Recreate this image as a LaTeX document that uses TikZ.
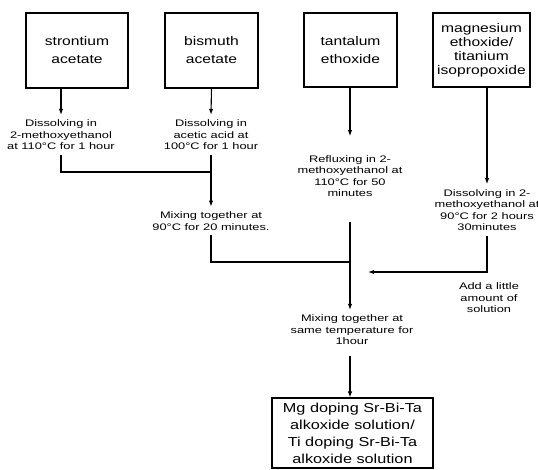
\documentclass[tikz,border=0pt]{standalone}
\usepackage{fontspec}
\setmainfont{Liberation Sans}
\newfontfamily\boxfont{Liberation Sans}[FakeStretch=1.25]
\newfontfamily\stepfont{Liberation Sans}[FakeStretch=1.35]
\usetikzlibrary{arrows.meta, positioning}

\begin{document}
\begin{tikzpicture}[
  x=1pt, y=-1pt,
  box/.style={rectangle, draw, line width=1.1pt, align=center, inner sep=2pt,
    font=\boxfont\fontsize{12.5}{18}\selectfont},
  proc/.style={align=center, inner xsep=2pt, inner ysep=5pt,
    font=\stepfont\fontsize{9.5}{11.5}\selectfont},
  line/.style={-{Latex[length=6pt,width=4.5pt]}, line width=1.1pt},
  joint/.style={line width=1.1pt}
]
\useasboundingbox (0,0) rectangle (538,469);

\node[box, minimum width=102pt, minimum height=75pt] (sr) at (77,50.5) {strontium\\acetate};
\node[box, minimum width=93pt, minimum height=75pt] (bi) at (211.5,50.5) {bismuth\\acetate};
\node[box, minimum width=93pt, minimum height=74pt] (ta) at (350.5,50) {tantalum\\ethoxide};
\node[box, minimum width=97pt, minimum height=74pt,
  font=\boxfont\fontsize{12.5}{14}\selectfont] (mg) at (481.5,50) {magnesium\\ethoxide/\\titanium\\isopropoxide};

\node[proc] (dis1) at (61,135) {Dissolving in\\2-methoxyethanol\\at 110°C for 1 hour};
\node[proc] (dis2) at (211,135) {Dissolving in\\acetic acid at\\100°C for 1 hour};
\node[proc] (mix1) at (211,221) {Mixing together at\\90°C for 20 minutes.};
\node[proc] (reflux) at (350,176) {Refluxing in 2-\\methoxyethanol at\\110°C for 50\\minutes};
\node[proc] (dis4) at (487,210) {Dissolving in 2-\\methoxyethanol at\\90°C for 2 hours\\30minutes};
\node[proc] (add) at (489,298) {Add a little\\amount of\\solution};
\node[proc] (mix2) at (352,330) {Mixing together at\\same temperature for\\1hour};
\node[box, minimum width=161pt, minimum height=70pt,
  font=\boxfont\fontsize{13}{17}\selectfont] (final) at (352.5,433) {Mg doping Sr-Bi-Ta\\alkoxide solution/\\Ti doping Sr-Bi-Ta\\alkoxide solution};

\coordinate (j1) at (211,172);
\coordinate (j2) at (350,262);
\coordinate (j3) at (368,272);

\draw[line] (sr.south -| dis1.north) -- (dis1.north);
\draw[line] (bi.south) -- (dis2.north);
\draw[joint] (dis1.south) |- (j1);
\draw[line] (dis2.south) -- (mix1.north);
\draw[line, shorten >=14pt] (ta.south -| reflux.north) -- (reflux.north);
\draw[line] (mg.south -| dis4.north) -- (dis4.north);
\draw[joint] (mix1.south) |- (j2);
\draw[line, shorten <=20pt] (reflux.south) -- (reflux.south |- mix2.north);
\draw[line] (dis4.south) |- (j3);
\draw[line, shorten <=6pt] (mix2.south -| reflux.south) -- (final.north -| reflux.south);
\end{tikzpicture}
\end{document}
